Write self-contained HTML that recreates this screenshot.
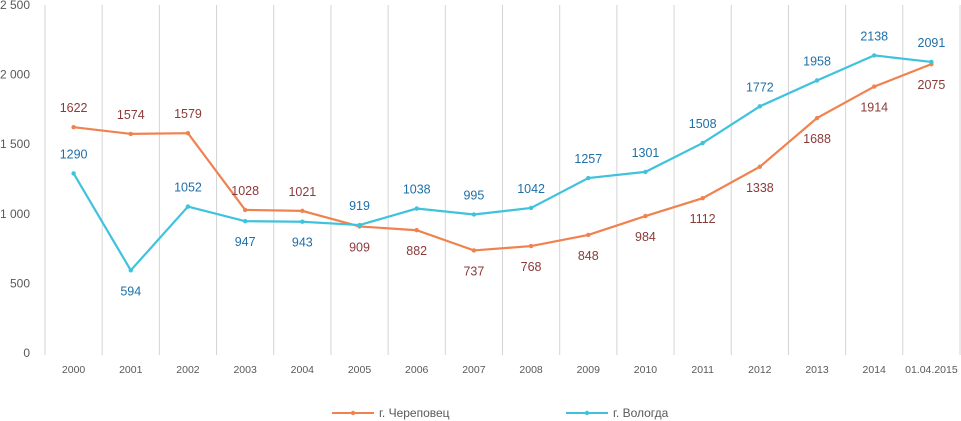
<!DOCTYPE html>
<html><head><meta charset="utf-8"><style>
body{margin:0;background:#fff;}
svg{display:block;font-family:"Liberation Sans",sans-serif;}
</style></head><body>
<svg id="chart" width="961" height="421"></svg>
<script>
const categories=["2000","2001","2002","2003","2004","2005","2006","2007","2008","2009","2010","2011","2012","2013","2014","01.04.2015"];
const cherepovets=[1622,1574,1579,1028,1021,909,882,737,768,848,984,1112,1338,1688,1914,2075];
const vologda=[1290,594,1052,947,943,919,1038,995,1042,1257,1301,1508,1772,1958,2138,2091];
const cherPos=[-1,-1,-1,-1,-1,1,1,1,1,1,1,1,1,1,1,1];
const volPos=[-1,1,-1,1,1,-1,-1,-1,-1,-1,-1,-1,-1,-1,-1,-1];
const yTicks=[0,500,1000,1500,2000,2500];
const yTickLabels=["0","500","1 000","1 500","2 000","2 500"];
const NS="http://www.w3.org/2000/svg";
const svg=document.getElementById('chart');
const L=45,R=960,T=5,B=353,band=(R-L)/categories.length;
function x(i){return L+band*(i+0.5);}
function y(v){return B-(v/2500)*(B-T);}
function mk(tag,attrs,parent){const e=document.createElementNS(NS,tag);for(const k in attrs)e.setAttribute(k,attrs[k]);(parent||svg).appendChild(e);return e;}
for(let i=0;i<=categories.length;i++){
  const g=mk('line',{x1:L+band*i,x2:L+band*i,y1:T,y2:B+2,stroke:'#d4d4d4','stroke-width':1});
  
  
}
yTicks.forEach((v,i)=>{
  const t=mk('text',{x:30,y:y(v)+4,'text-anchor':'end','font-size':12,fill:'#595959'});
  t.textContent=yTickLabels[i];
  
  
});
categories.forEach((c,i)=>{
  const t=mk('text',{x:x(i),y:373,'text-anchor':'middle','font-size':10.5,fill:'#595959'});
  t.textContent=c;
  
  
});
function series(vals,pos,color,lblColor,name){
  const pts=vals.map((v,i)=>x(i)+','+y(v)).join(' ');
  const p=mk('polyline',{points:pts,fill:'none',stroke:color,'stroke-width':2.2});
  
  
  vals.forEach((v,i)=>{
    const c=mk('circle',{cx:x(i),cy:y(v),r:2.2,fill:color});
    
    
    const t=mk('text',{x:x(i),y:y(v)+pos[i]*20+5,'text-anchor':'middle','font-size':12.5,fill:lblColor});
    t.textContent=v;
    
    
  });
}
series(cherepovets,cherPos,'#f0824f','#8b3a3a','cherepovets');
series(vologda,volPos,'#3fc2dc','#1f6fa8','vologda');
function legend(lx,color,label,name){
  const g=mk('g',{});
  
  
  mk('line',{x1:lx,x2:lx+42,y1:413,y2:413,stroke:color,'stroke-width':2},g);
  mk('circle',{cx:lx+21,cy:413,r:2.2,fill:color},g);
  const t=mk('text',{x:lx+47,y:417,'font-size':12,fill:'#595959'},g);
  t.textContent=label;
}
legend(332,'#f0824f','г. Череповец','legend-cherepovets');
legend(566,'#3fc2dc','г. Вологда','legend-vologda');
</script>
</body></html>
